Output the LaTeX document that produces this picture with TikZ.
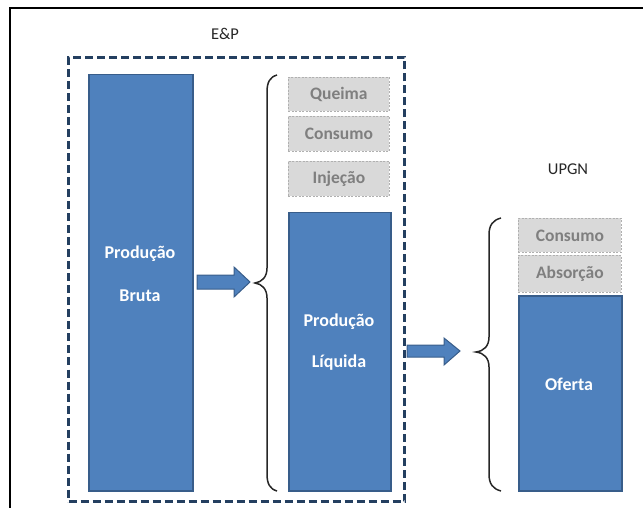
\documentclass[tikz,border=0pt]{standalone}
\usepackage{fontspec}
\setmainfont{Carlito}
\definecolor{boxblue}{HTML}{4F81BD}
\definecolor{boxedge}{HTML}{385D8A}
\definecolor{navy}{HTML}{243F60}
\definecolor{grayfill}{HTML}{D9D9D9}
\definecolor{grayedge}{HTML}{B0B0B0}
\definecolor{graytext}{HTML}{7F7F7F}
\begin{document}
\begin{tikzpicture}[x=1pt,y=-1pt,
  bluebox/.style={draw=boxedge, fill=boxblue, line width=1.5pt, anchor=north west, inner sep=0pt},
  graybox/.style={draw=grayedge, fill=grayfill, dash pattern=on 2pt off 1.5pt, line width=0.8pt,
    text=graytext, font=\fontsize{17.5}{20}\selectfont\bfseries, anchor=north west, inner sep=0pt,
    minimum width=101pt},
  whitetxt/.style={text=white, font=\fontsize{18}{21}\selectfont\bfseries},
  headtxt/.style={text=black!85, font=\fontsize{16.5}{19}\selectfont},
  bracestyle/.style={line width=1.5pt, black!85},
  blockarrow/.style={draw=boxedge, fill=boxblue, line width=1pt, line join=miter},
  ]
\useasboundingbox (0,0) rectangle (643,508);
% outer frame
\draw[line width=1.5pt] (10,520) -- (10,8) -- (660,8);
% E&P dashed area
\node[draw=navy, line width=3pt, dash pattern=on 8pt off 4pt, anchor=north west, inner sep=0pt,
      minimum width=336pt, minimum height=444pt] (ep) at (67,56) {};
\node[headtxt] (eplabel) at (225,34) {E\&P};
% Produção Bruta
\node[bluebox, minimum width=104pt, minimum height=416pt] (bruta) at (88,74) {};
\node[whitetxt] (bruta1) at (140,254) {Produção};
\node[whitetxt] (bruta2) at (140,296) {Bruta};
% arrow 1
\draw[blockarrow] (197,275) -- (234,275) -- (234,267) -- (250,282) -- (234,297) -- (234,289) -- (197,289) -- cycle;
% brace 1
\coordinate (b1top) at (277,75);
\coordinate (b1tip) at (255,283);
\coordinate (b1bot) at (277,491);
\draw[bracestyle] (b1top) .. controls (270,77) and (267,82) .. (267,92) -- (267,268)
  .. controls (267,277) and (262,282) .. (b1tip)
  .. controls (262,284) and (267,289) .. (267,298) -- (267,474)
  .. controls (267,484) and (270,489) .. (b1bot);
% gray boxes E&P
\node[graybox, minimum height=34pt] (queima) at (288,77) {Queima};
\node[graybox, minimum height=35pt] (consumo1) at (288,116) {Consumo};
\node[graybox, minimum height=35pt] (injecao) at (288,161) {Injeção};
% Produção Líquida
\node[bluebox, minimum width=102pt, minimum height=278pt] (liquida) at (288,212) {};
\node[whitetxt] (liq1) at (339,322) {Produção};
\node[whitetxt] (liq2) at (339,363) {Líquida};
% arrow 2
\draw[blockarrow] (407,345) -- (444,345) -- (444,338) -- (460,351) -- (444,365) -- (444,357) -- (407,357) -- cycle;
% brace 2
\coordinate (b2top) at (501,218);
\coordinate (b2tip) at (476,352);
\coordinate (b2bot) at (501,491);
\draw[bracestyle] (b2top) .. controls (493,220) and (489,225) .. (489,235) -- (489,337)
  .. controls (489,346) and (484,351) .. (b2tip)
  .. controls (484,353) and (489,358) .. (489,367) -- (489,474)
  .. controls (489,484) and (493,489) .. (b2bot);
% UPGN
\node[headtxt] (upgnlabel) at (568,169) {UPGN};
\node[graybox, minimum width=103pt, minimum height=34pt] (consumo2) at (518,218) {Consumo};
\node[graybox, minimum width=103pt, minimum height=37pt] (absorcao) at (518,255) {Absorção};
\node[bluebox, minimum width=103pt, minimum height=195pt] (oferta) at (518,295) {};
\node[whitetxt] (ofertatxt) at (569,384) {Oferta};
\end{tikzpicture}
\end{document}
